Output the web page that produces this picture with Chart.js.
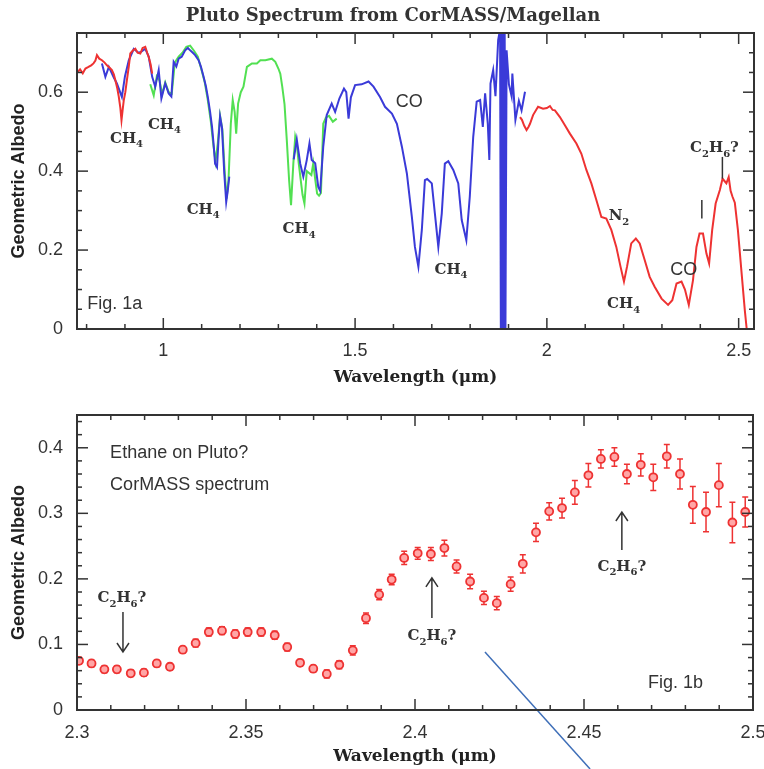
<!DOCTYPE html>
<html lang="en">
<head>
<meta charset="UTF-8">
<title>Pluto Spectrum from CorMASS/Magellan</title>
<script src="https://cdn.jsdelivr.net/npm/chart.js"></script>
<style>
  body { margin: 0; background: #fff; }
  #page { position: relative; width: 764px; height: 769px; overflow: hidden; }
  #title { position: absolute; left: 0; top: 4px; width: 786px; text-align: center;
           font: bold 18px "DejaVu Serif"; line-height: 22px; color: #333; }
  .box { position: absolute; left: 0; width: 764px; }
  #topBox { top: 0; height: 395px; }
  #botBox { top: 395px; height: 374px; }
</style>
</head>
<body>
<div id="page">
  <div class="box" id="topBox"><canvas id="topChart" width="764" height="395"></canvas></div>
  <div class="box" id="botBox"><canvas id="botChart" width="764" height="374"></canvas></div>
  <div id="title">Pluto Spectrum from CorMASS/Magellan</div>
</div>
<script>
// ---- Fig. 1a : full spectrum ----
const redWave1 = [0.776, 0.783, 0.790, 0.797, 0.805, 0.812, 0.818, 0.823, 0.827, 0.833,
  0.840, 0.847, 0.853, 0.860, 0.866, 0.871, 0.875, 0.880, 0.884, 0.888,
  0.891, 0.894, 0.897, 0.901, 0.905, 0.910, 0.914, 0.920, 0.927, 0.933,
  0.940, 0.946, 0.953, 0.958, 0.962, 0.967, 0.971];
const redAlb1 = [0.650, 0.658, 0.648, 0.660, 0.664, 0.668, 0.673, 0.680, 0.694, 0.685,
  0.681, 0.675, 0.668, 0.662, 0.656, 0.645, 0.630, 0.610, 0.588, 0.560,
  0.529, 0.555, 0.580, 0.600, 0.630, 0.665, 0.698, 0.705, 0.710, 0.700,
  0.698, 0.712, 0.715, 0.700, 0.689, 0.670, 0.647];

const blueWave1 = [0.840, 0.849, 0.858, 0.870, 0.879, 0.892, 0.900, 0.910, 0.923, 0.935,
  0.942, 0.953, 0.962, 0.971, 0.979, 0.988, 0.995, 1.005, 1.014, 1.021,
  1.027, 1.034, 1.040, 1.048, 1.057, 1.064, 1.070, 1.077, 1.083, 1.092,
  1.098, 1.105, 1.111, 1.116, 1.122, 1.127, 1.131, 1.135, 1.140, 1.144,
  1.148, 1.153, 1.159, 1.164, 1.168, 1.172];
const blueAlb1 = [0.673, 0.639, 0.664, 0.639, 0.622, 0.588, 0.640, 0.681, 0.710, 0.700,
  0.702, 0.710, 0.690, 0.639, 0.614, 0.656, 0.584, 0.622, 0.597, 0.589,
  0.677, 0.665, 0.685, 0.690, 0.706, 0.712, 0.706, 0.700, 0.694, 0.681,
  0.665, 0.639, 0.615, 0.588, 0.550, 0.512, 0.470, 0.419, 0.410, 0.480,
  0.538, 0.510, 0.394, 0.322, 0.350, 0.386];

const blueWave2 = [1.340, 1.348, 1.357, 1.365, 1.374, 1.381, 1.387, 1.396, 1.404, 1.409,
  1.417, 1.426, 1.439, 1.448, 1.459, 1.471, 1.477, 1.483, 1.489, 1.500,
  1.517, 1.535, 1.548, 1.565, 1.578, 1.596, 1.609, 1.622, 1.635, 1.648,
  1.656, 1.665, 1.674, 1.682, 1.688, 1.700, 1.708, 1.717, 1.726, 1.734,
  1.743, 1.756, 1.769, 1.778, 1.790, 1.799, 1.808, 1.817, 1.826, 1.833,
  1.839, 1.846, 1.850, 1.853, 1.860, 1.866, 1.873, 1.878, 1.880, 1.882,
  1.884, 1.886, 1.888, 1.890, 1.892, 1.895, 1.901, 1.908, 1.910, 1.918,
  1.927, 1.934, 1.943];
const blueAlb2 = [0.430, 0.480, 0.419, 0.386, 0.428, 0.470, 0.428, 0.420, 0.360, 0.350,
  0.462, 0.542, 0.571, 0.550, 0.584, 0.609, 0.600, 0.533, 0.587, 0.618,
  0.620, 0.627, 0.614, 0.588, 0.563, 0.546, 0.520, 0.462, 0.394, 0.284,
  0.208, 0.158, 0.251, 0.377, 0.380, 0.369, 0.293, 0.208, 0.293, 0.419,
  0.425, 0.403, 0.369, 0.276, 0.225, 0.335, 0.487, 0.576, 0.580, 0.512,
  0.597, 0.520, 0.428, 0.622, 0.656, 0.590, 0.732, 0.760, 0.000, 0.760,
  0.000, 0.760, 0.000, 0.760, 0.000, 0.706, 0.620, 0.590, 0.647, 0.530,
  0.578, 0.554, 0.601];

const greenWave = [0.966, 0.975, 0.983, 0.990, 0.997, 1.005, 1.014, 1.022, 1.030, 1.040,
  1.050, 1.060, 1.070, 1.080, 1.090, 1.100, 1.108, 1.116, 1.124, 1.130,
  1.136, 1.142, 1.148, 1.154, 1.160, 1.165, 1.170, 1.176, 1.181, 1.186,
  1.190, 1.195, 1.202, 1.209, 1.218, 1.231, 1.244, 1.253, 1.266, 1.283,
  1.292, 1.300, 1.305, 1.310, 1.316, 1.322, 1.328, 1.333, 1.339, 1.344,
  1.348, 1.353, 1.358, 1.363, 1.368, 1.374, 1.380, 1.386, 1.391, 1.396,
  1.401, 1.406, 1.411, 1.417, 1.424, 1.432, 1.442, 1.452];
const greenAlb = [0.620, 0.592, 0.640, 0.630, 0.595, 0.625, 0.600, 0.596, 0.675, 0.690,
  0.700, 0.715, 0.718, 0.705, 0.690, 0.655, 0.625, 0.580, 0.525, 0.470,
  0.425, 0.470, 0.540, 0.505, 0.400, 0.330, 0.377, 0.520, 0.580, 0.550,
  0.495, 0.571, 0.600, 0.614, 0.664, 0.673, 0.673, 0.681, 0.681, 0.685,
  0.677, 0.660, 0.647, 0.615, 0.570, 0.478, 0.377, 0.314, 0.419, 0.487,
  0.470, 0.420, 0.380, 0.340, 0.318, 0.400, 0.395, 0.390, 0.420, 0.380,
  0.343, 0.338, 0.345, 0.520, 0.536, 0.540, 0.525, 0.533];

const redWave2 = [1.930, 1.935, 1.941, 1.947, 1.952, 1.956, 1.964, 1.977, 1.990, 2.000,
  2.008, 2.015, 2.021, 2.034, 2.047, 2.060, 2.077, 2.090, 2.103, 2.116,
  2.129, 2.142, 2.155, 2.168, 2.181, 2.192, 2.201, 2.209, 2.220, 2.232,
  2.242, 2.255, 2.268, 2.281, 2.299, 2.316, 2.327, 2.338, 2.351, 2.360,
  2.370, 2.381, 2.390, 2.398, 2.407, 2.416, 2.423, 2.431, 2.440, 2.451,
  2.458, 2.463, 2.468, 2.474, 2.479, 2.484, 2.490, 2.498, 2.507, 2.516,
  2.521];
const redAlb2 = [0.537, 0.530, 0.515, 0.504, 0.512, 0.520, 0.542, 0.563, 0.558, 0.560,
  0.565, 0.555, 0.554, 0.537, 0.516, 0.495, 0.470, 0.444, 0.403, 0.369,
  0.327, 0.284, 0.280, 0.251, 0.208, 0.158, 0.120, 0.158, 0.217, 0.229,
  0.217, 0.175, 0.132, 0.107, 0.077, 0.061, 0.073, 0.115, 0.120, 0.100,
  0.061, 0.124, 0.208, 0.242, 0.242, 0.191, 0.166, 0.251, 0.318, 0.352,
  0.381, 0.375, 0.369, 0.385, 0.350, 0.335, 0.320, 0.251, 0.149, 0.048,
  0.000];

const topXTicks = [1, 1.5, 2, 2.5];
const topYTicks = [0, 0.2, 0.4, 0.6];

// ---- Fig. 1b : CorMASS points with error bars ----
const ethWave = [2.3006, 2.3043, 2.3081, 2.3118, 2.3159, 2.3198, 2.3236, 2.3275, 2.3313, 2.3351,
  2.3390, 2.3429, 2.3468, 2.3505, 2.3545, 2.3585, 2.3622, 2.3660, 2.3699, 2.3739,
  2.3776, 2.3816, 2.3855, 2.3894, 2.3931, 2.3968, 2.4008, 2.4047, 2.4087, 2.4123,
  2.4163, 2.4204, 2.4242, 2.4283, 2.4319, 2.4358, 2.4397, 2.4435, 2.4473, 2.4513,
  2.4550, 2.4590, 2.4627, 2.4668, 2.4705, 2.4745, 2.4784, 2.4822, 2.4861, 2.4899,
  2.4939, 2.4977];
const ethAlb = [0.075, 0.071, 0.062, 0.062, 0.056, 0.057, 0.071, 0.066, 0.092, 0.102,
  0.119, 0.121, 0.116, 0.119, 0.119, 0.114, 0.096, 0.072, 0.063, 0.055,
  0.069, 0.091, 0.140, 0.176, 0.199, 0.232, 0.239, 0.238, 0.247, 0.219,
  0.196, 0.171, 0.163, 0.192, 0.223, 0.271, 0.303, 0.308, 0.332, 0.358,
  0.383, 0.386, 0.360, 0.374, 0.355, 0.387, 0.360, 0.313, 0.302, 0.343,
  0.286, 0.302];
const ethErr = [0.005, 0.005, 0.005, 0.005, 0.005, 0.005, 0.005, 0.005, 0.005, 0.006,
  0.006, 0.006, 0.006, 0.006, 0.006, 0.006, 0.006, 0.005, 0.005, 0.006,
  0.006, 0.007, 0.008, 0.008, 0.008, 0.010, 0.009, 0.010, 0.012, 0.010,
  0.011, 0.010, 0.010, 0.011, 0.014, 0.014, 0.013, 0.015, 0.018, 0.018,
  0.014, 0.014, 0.015, 0.017, 0.020, 0.018, 0.023, 0.028, 0.030, 0.033,
  0.031, 0.023];

const botXTicks = [2.3, 2.35, 2.4, 2.45, 2.5];
const botYTicks = [0, 0.1, 0.2, 0.3, 0.4];

// labels placed in data units
const topNotes = [
  { t: 'CH_4', x: 0.904, y: 0.486 },
  { t: 'CH_4', x: 1.003, y: 0.521 },
  { t: 'CH_4', x: 1.104, y: 0.306 },
  { t: 'CH_4', x: 1.354, y: 0.256 },
  { t: 'CO', x: 1.641, y: 0.580, sans: true },
  { t: 'CH_4', x: 1.750, y: 0.154 },
  { t: 'N_2', x: 2.188, y: 0.289 },
  { t: 'CH_4', x: 2.200, y: 0.066 },
  { t: 'CO', x: 2.357, y: 0.154, sans: true },
  { t: 'C_2H_6?', x: 2.437, y: 0.461 },
  { t: 'Fig. 1a', x: 0.802, y: 0.068, sans: true, left: true }
];
const topMarks = [[2.404, 0.327, 2.404, 0.280], [2.4576, 0.436, 2.4576, 0.381]];

const botNotes = [
  { t: 'Ethane on Pluto?', x: 2.3098, y: 0.394, sans: true, left: true },
  { t: 'CorMASS spectrum', x: 2.3098, y: 0.345, sans: true, left: true },
  { t: 'Fig. 1b', x: 2.4689, y: 0.043, sans: true, left: true },
  { t: 'C_2H_6?', x: 2.3133, y: 0.1725 },
  { t: 'C_2H_6?', x: 2.405, y: 0.1145 },
  { t: 'C_2H_6?', x: 2.4612, y: 0.221 }
];
const botArrows = [[2.3136, 0.1496, 2.3136, 0.0885], [2.405, 0.1405, 2.405, 0.2015], [2.4612, 0.244, 2.4612, 0.302]];
const strayLine = [2.4207, 0.0885, 2.4518, -0.090];

const RED = '#ee3232', BLUE = '#3a3ad8', GREEN = '#52e052', INK = '#333';
const pts = (w, a) => w.map((x, i) => ({ x, y: a[i] }));

function drawRich(ctx, text, x, y, size, family, weight, left) {
  const parts = [];
  for (let i = 0; i < text.length; i++) {
    if (text[i] === '_') { parts.push({ s: text[i + 1], sub: true }); i++; }
    else parts.push({ s: text[i], sub: false });
  }
  const fontOf = p => `${weight} ${p.sub ? Math.round(size * 0.68) : size}px "${family}"`;
  let w = 0;
  parts.forEach(p => { ctx.font = fontOf(p); p.w = ctx.measureText(p.s).width; w += p.w; });
  let cx = left ? x : x - w / 2;
  ctx.textAlign = 'left';
  ctx.textBaseline = 'alphabetic';
  parts.forEach(p => {
    ctx.font = fontOf(p);
    ctx.fillText(p.s, cx, y + size * 0.36 + (p.sub ? size * 0.28 : 0));
    cx += p.w;
  });
}

// box with inward major/minor ticks on all four sides
const framePlugin = {
  id: 'frame',
  afterDraw(chart, args, o) {
    const { ctx, chartArea: a, scales: { x, y } } = chart;
    ctx.save();
    ctx.strokeStyle = INK;
    ctx.lineWidth = 1.5;
    const seg = (x1, y1, x2, y2) => { ctx.beginPath(); ctx.moveTo(x1, y1); ctx.lineTo(x2, y2); ctx.stroke(); };
    const isMajor = (list, v) => list.some(m => Math.abs(m - v) < 1e-6);
    for (let i = Math.ceil(x.min / o.xStep - 1e-6); i * o.xStep <= x.max + 1e-9; i++) {
      const v = i * o.xStep, px = x.getPixelForValue(v);
      const len = isMajor(o.xMajor, v) ? 11 : 5;
      seg(px, a.bottom, px, a.bottom - len);
      seg(px, a.top, px, a.top + len);
    }
    for (let i = Math.ceil(y.min / o.yStep - 1e-6); i * o.yStep <= y.max + 1e-9; i++) {
      const v = i * o.yStep, py = y.getPixelForValue(v);
      const len = isMajor(o.yMajor, v) ? 11 : 5;
      seg(a.left, py, a.left + len, py);
      seg(a.right, py, a.right - len, py);
    }
    ctx.lineWidth = 2;
    ctx.strokeRect(a.left, a.top, a.right - a.left, a.bottom - a.top);
    ctx.restore();
  }
};

const notesPlugin = {
  id: 'notes',
  afterDatasetsDraw(chart, args, o) {
    const { ctx, scales: { x, y } } = chart;
    ctx.save();
    ctx.fillStyle = INK;
    ctx.strokeStyle = INK;
    ctx.lineWidth = 1.5;
    (o.notes || []).forEach(n => {
      const px = x.getPixelForValue(n.x), py = y.getPixelForValue(n.y);
      if (n.sans) drawRich(ctx, n.t, px, py, 18, 'Liberation Sans', 'normal', n.left);
      else drawRich(ctx, n.t, px, py, 15, 'DejaVu Serif', 'bold', n.left);
    });
    (o.marks || []).forEach(m => {
      ctx.beginPath();
      ctx.moveTo(x.getPixelForValue(m[0]), y.getPixelForValue(m[1]));
      ctx.lineTo(x.getPixelForValue(m[2]), y.getPixelForValue(m[3]));
      ctx.stroke();
    });
    (o.arrows || []).forEach(m => {
      const x1 = x.getPixelForValue(m[0]), y1 = y.getPixelForValue(m[1]);
      const x2 = x.getPixelForValue(m[2]), y2 = y.getPixelForValue(m[3]);
      const d = y2 > y1 ? -1 : 1;
      ctx.beginPath();
      ctx.moveTo(x1, y1); ctx.lineTo(x2, y2);
      ctx.moveTo(x2 - 6, y2 + d * 9); ctx.lineTo(x2, y2); ctx.lineTo(x2 + 6, y2 + d * 9);
      ctx.stroke();
    });
    if (o.stray) {
      const s = o.stray;
      ctx.strokeStyle = '#3f6fb8';
      ctx.lineWidth = 1.5;
      ctx.beginPath();
      ctx.moveTo(x.getPixelForValue(s[0]), y.getPixelForValue(s[1]));
      ctx.lineTo(x.getPixelForValue(s[2]), y.getPixelForValue(s[3]));
      ctx.stroke();
    }
    ctx.restore();
  }
};

const errorPlugin = {
  id: 'errbars',
  beforeDatasetsDraw(chart, args, o) {
    if (!o.err) return;
    const { ctx, scales: { x, y } } = chart;
    ctx.save();
    ctx.strokeStyle = RED;
    ctx.lineWidth = 1.5;
    ethWave.forEach((w, i) => {
      const px = x.getPixelForValue(w);
      const lo = y.getPixelForValue(ethAlb[i] - o.err[i]);
      const hi = y.getPixelForValue(ethAlb[i] + o.err[i]);
      ctx.beginPath();
      ctx.moveTo(px, lo); ctx.lineTo(px, hi);
      ctx.moveTo(px - 3, lo); ctx.lineTo(px + 3, lo);
      ctx.moveTo(px - 3, hi); ctx.lineTo(px + 3, hi);
      ctx.stroke();
    });
    ctx.restore();
  }
};

function axes(xMin, xMax, xTicks, yMax, yTicks, xHeight, titlePad, labelPad) {
  const tickFont = { family: 'Liberation Sans', size: 18 };
  return {
    x: {
      type: 'linear', min: xMin, max: xMax,
      grid: { display: false, drawTicks: false }, border: { display: false },
      afterBuildTicks: s => { s.ticks = xTicks.map(v => ({ value: v })); },
      afterFit: s => { s.height = xHeight; s.paddingLeft = 0; s.paddingRight = 0; },
      ticks: { autoSkip: false, maxRotation: 0, padding: labelPad, color: INK, font: tickFont, callback: v => String(v) },
      title: { display: true, text: 'Wavelength (μm)', color: '#222',
               font: { family: 'DejaVu Serif', size: 17, weight: 'bold' }, padding: { top: 0, bottom: titlePad } }
    },
    y: {
      min: 0, max: yMax,
      grid: { display: false, drawTicks: false }, border: { display: false },
      afterBuildTicks: s => { s.ticks = yTicks.map(v => ({ value: v })); },
      afterFit: s => { s.width = 77; s.paddingTop = 0; s.paddingBottom = 0; },
      ticks: { autoSkip: false, padding: 14, color: INK, font: tickFont, callback: v => String(v) },
      title: { display: true, text: 'Geometric Albedo', color: '#222',
               font: { family: 'Liberation Sans', size: 18, weight: 'bold' }, padding: { top: 8, bottom: 0 } }
    }
  };
}

const lineSet = (w, a, color) => ({ data: pts(w, a), borderColor: color, borderWidth: 2, pointRadius: 0, tension: 0, fill: false });

new Chart(document.getElementById('topChart'), {
  type: 'line',
  data: {
    datasets: [
      lineSet(redWave1, redAlb1, RED),
      lineSet(redWave2, redAlb2, RED),
      lineSet(blueWave1, blueAlb1, BLUE),
      lineSet(blueWave2, blueAlb2, BLUE),
      lineSet(greenWave, greenAlb, GREEN)
    ]
  },
  options: {
    responsive: false,
    animation: false,
    layout: { padding: { top: 33, right: 10, left: 0, bottom: 0 } },
    scales: axes(0.775, 2.54, topXTicks, 0.75, topYTicks, 66, 7, 11),
    plugins: {
      legend: { display: false },
      tooltip: { enabled: false },
      frame: { xStep: 0.1, xMajor: topXTicks, yStep: 0.05, yMajor: topYTicks },
      notes: { notes: topNotes, marks: topMarks }
    }
  },
  plugins: [framePlugin, notesPlugin]
});

new Chart(document.getElementById('botChart'), {
  type: 'scatter',
  data: {
    datasets: [{
      data: pts(ethWave, ethAlb),
      showLine: false,
      pointRadius: 4,
      pointBorderWidth: 1.8,
      borderColor: RED,
      backgroundColor: '#ffa6a6'
    }]
  },
  options: {
    responsive: false,
    animation: false,
    layout: { padding: { top: 20, right: 11, left: 0, bottom: 0 } },
    scales: axes(2.3, 2.5, botXTicks, 0.45, botYTicks, 59, 2, 12),
    plugins: {
      legend: { display: false },
      tooltip: { enabled: false },
      frame: { xStep: 0.01, xMajor: botXTicks, yStep: 0.02, yMajor: botYTicks },
      notes: { notes: botNotes, arrows: botArrows, stray: strayLine },
      errbars: { err: ethErr }
    }
  },
  plugins: [framePlugin, notesPlugin, errorPlugin]
});
</script>
</body>
</html>
